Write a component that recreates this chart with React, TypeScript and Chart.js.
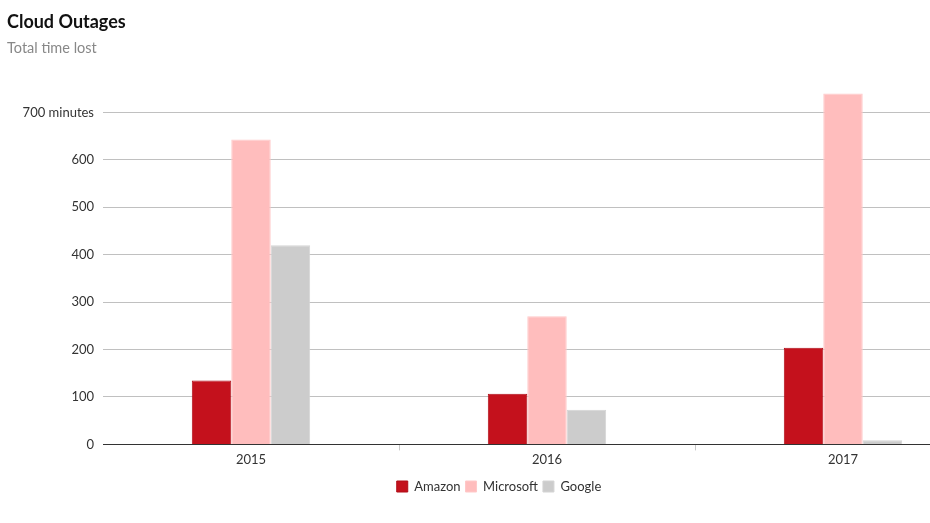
import React, { useEffect, useRef } from "react";
import { Chart, registerables } from "chart.js";

Chart.register(...registerables);

const categories = ["2015", "2016", "2017"];
const amazon = [135, 107, 204];
const microsoft = [643, 270, 740];
const google = [420, 73, 9];
const yTicks = [0, 100, 200, 300, 400, 500, 600, 700];

const FONT = "Lato, 'Noto Sans', sans-serif";

export default function App() {
  const ref = useRef<HTMLCanvasElement | null>(null);

  useEffect(() => {
    if (!ref.current) return;
    const chart = new Chart(ref.current, {
      type: "bar",
      data: {
        labels: categories,
        datasets: [
          { label: "Amazon", data: amazon, backgroundColor: "#c4111c", borderColor: "#b00e18", borderWidth: 1 },
          { label: "Microsoft", data: microsoft, backgroundColor: "#ffbdbd", borderColor: "#ffc9c9", borderWidth: 1 },
          { label: "Google", data: google, backgroundColor: "#cccccc", borderColor: "#d4d4d4", borderWidth: 1 },
        ],
      },
      options: {
        animation: false,
        responsive: false,
        maintainAspectRatio: false,
        layout: { padding: { left: 7, right: 9, bottom: 20, top: 0 } },
        datasets: { bar: { categoryPercentage: 0.4, barPercentage: 1.0 } },
        plugins: {
          title: {
            display: true,
            text: "Cloud Outages",
            align: "start",
            color: "#111",
            font: { family: FONT, size: 18, weight: "bold" },
            padding: { top: 11, bottom: 7 },
          },
          subtitle: {
            display: true,
            text: "Total time lost",
            align: "start",
            color: "#888",
            font: { family: FONT, size: 14.5 },
            padding: { top: 0, bottom: 27 },
          },
          legend: {
            position: "bottom",
            labels: {
              boxWidth: 11,
              boxHeight: 11,
              color: "#333",
              padding: 5,
              font: { family: FONT, size: 13 },
            },
          },
          tooltip: { enabled: false },
        },
        scales: {
          x: {
            offset: true,
            afterFit: (scale: any) => {
              scale.height += 5;
            },
            grid: {
              offset: true,
              drawOnChartArea: false,
              drawTicks: true,
              tickLength: 6,
              color: (ctx: any) => (ctx.index === 0 ? "rgba(0,0,0,0)" : "#c8c8c8"),
            },
            border: { display: true, color: "#333", width: 1 },
            ticks: { color: "#333", font: { family: FONT, size: 13 }, padding: 2 },
          },
          y: {
            min: 0,
            max: 760,
            afterBuildTicks: (scale: any) => {
              scale.ticks = yTicks.map((v) => ({ value: v }));
            },
            afterFit: (scale: any) => {
              scale.width = 96;
            },
            grid: {
              drawTicks: false,
              color: (ctx: any) => (ctx.tick && ctx.tick.value === 0 ? "#333" : "#c0c0c0"),
            },
            border: { display: false },
            ticks: {
              color: "#333",
              padding: 9,
              font: { family: FONT, size: 13 },
              callback: (v: any) => (v === 700 ? "700 minutes" : String(v)),
            },
          },
        },
      },
    });
    return () => chart.destroy();
  }, []);

  return (
    <div style={{ position: "fixed", left: 0, top: 0, width: 930, height: 523, overflow: "hidden", background: "#fff" }}>
      <canvas ref={ref} width={1000} height={523} style={{ display: "block", width: 1000, height: 523 }} />
    </div>
  );
}
